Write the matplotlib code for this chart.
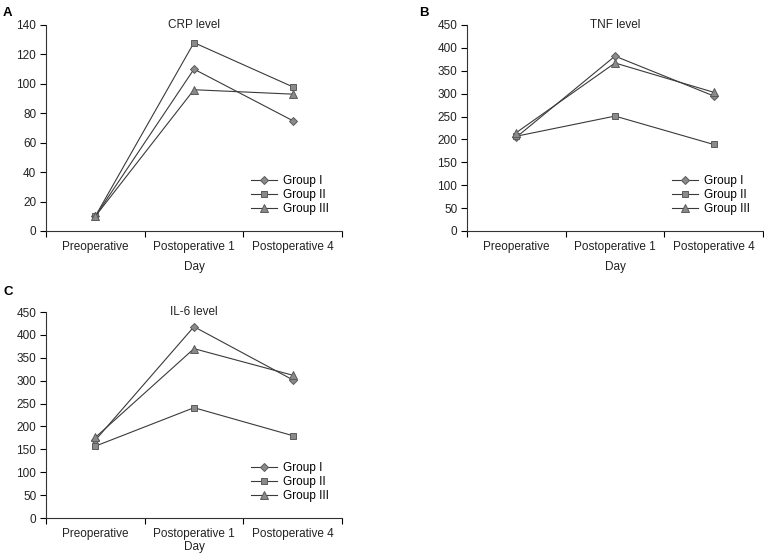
# Cytokine levels by group across perioperative days (three panels A, B, C).
import matplotlib
matplotlib.use('Agg')
import matplotlib.pyplot as plt

plt.rcParams['font.family'] = ['Liberation Sans', 'DejaVu Sans']

days = ['Preoperative', 'Postoperative 1', 'Postoperative 4']
groups = ['Group I', 'Group II', 'Group III']

# values
crp_group1 = [10, 110, 75]
crp_group2 = [10, 128, 98]
crp_group3 = [10, 96, 93]

tnf_group1 = [205, 382, 295]
tnf_group2 = [207, 251, 189]
tnf_group3 = [215, 367, 303]

il6_group1 = [170, 418, 302]
il6_group2 = [157, 241, 180]
il6_group3 = [176, 370, 312]

markers = ['D', 's', '^']
sizes = [4.5, 5, 5.5]
FS = 8.5


def drawPanel(ax, title, series, ymax, ystep, daypad=6):
    """Draw one panel: three groups as lines with gray markers."""
    xpos = [i + 0.5 for i in range(len(days))]
    for name, vals, mk, ms in zip(groups, series, markers, sizes):
        ax.plot(xpos, vals, color='#3a3a3a', lw=0.8, marker=mk, ms=ms,
                mfc='#8a8a8a', mec='#5a5a5a', mew=0.7, label=name)
    ax.set_xlim(0, len(days))
    ax.set_ylim(0, ymax)
    ax.set_xticks(range(len(days) + 1))
    ax.set_xticklabels([])
    ax.set_xticks(xpos, minor=True)
    ax.set_xticklabels(days, minor=True, fontsize=FS, color='#222222')
    ax.tick_params(axis='x', which='minor', length=0, pad=7)
    ax.tick_params(axis='x', which='major', length=4, width=0.8, direction='out')
    ax.set_yticks(range(0, ymax + 1, ystep))
    ax.tick_params(axis='y', length=4, width=0.8, labelsize=FS, pad=3,
                   labelcolor='#222222')
    for side in ['top', 'right']:
        ax.spines[side].set_visible(False)
    for side in ['left', 'bottom']:
        ax.spines[side].set_linewidth(0.8)
        ax.spines[side].set_color('#333333')
    ax.set_xlabel('Day', fontsize=FS, labelpad=daypad, color='#222222')
    ax.text(0.5, 1.0, title, transform=ax.transAxes, ha='center',
            va='center', fontsize=FS, color='#222222')
    ax.legend(loc='upper left', bbox_to_anchor=(0.673, 0.30), frameon=False,
              fontsize=FS, handlelength=2.2, handletextpad=0.5,
              labelspacing=0.18, borderpad=0)


fig = plt.figure(figsize=(7.64, 5.59), dpi=100)
axA = fig.add_axes([0.0602, 0.5868, 0.3874, 0.3685])
axB = fig.add_axes([0.6113, 0.5868, 0.3874, 0.3685])
axC = fig.add_axes([0.0602, 0.0733, 0.3874, 0.3685])

drawPanel(axA, 'CRP level', [crp_group1, crp_group2, crp_group3], 140, 20)
drawPanel(axB, 'TNF level', [tnf_group1, tnf_group2, tnf_group3], 450, 50)
drawPanel(axC, 'IL-6 level', [il6_group1, il6_group2, il6_group3], 450, 50,
          daypad=1)

fig.text(0.004, 0.988, 'A', fontsize=9.5, fontweight='bold', va='top')
fig.text(0.548, 0.988, 'B', fontsize=9.5, fontweight='bold', va='top')
fig.text(0.004, 0.488, 'C', fontsize=9.5, fontweight='bold', va='top')

fig.savefig('out.png', dpi=100)
